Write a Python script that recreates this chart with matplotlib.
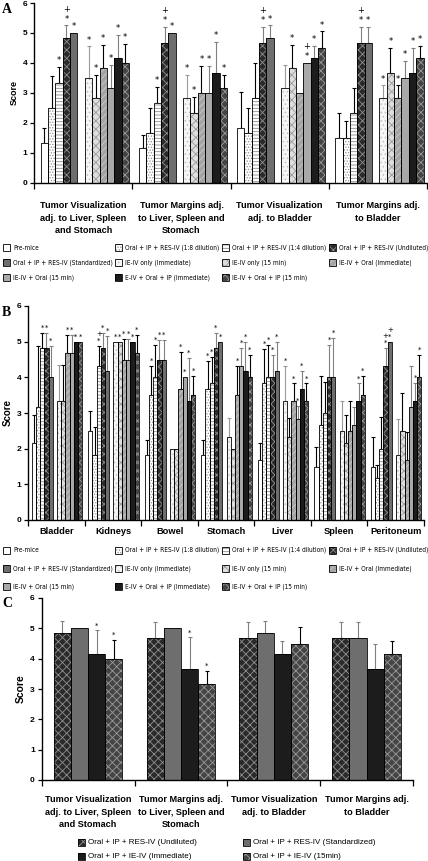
import numpy as np
import matplotlib
matplotlib.use('Agg')
import matplotlib.pyplot as plt
from matplotlib.patches import Rectangle

plt.rcParams['font.family'] = ['Liberation Sans', 'DejaVu Sans']
plt.rcParams['hatch.linewidth'] = 0.6

# ---- data -------------------------------------------------------------
series = ['Pre-mice', 'Oral + IP + RES-IV (1:8 dilution)', 'Oral + IP + RES-IV (1:4 dilution)',
          'Oral + IP + RES-IV (Undiluted)', 'Oral + IP + RES-IV (Standardized)',
          'IE-IV only (Immediate)', 'IE-IV only (15 min)', 'IE-IV + Oral (Immediate)',
          'IE-IV + Oral (15 min)', 'E-IV + Oral + IP (Immediate)', 'IE-IV + Oral + IP (15 min)']

tumor_cats = ['Tumor Visualization\nadj. to Liver, Spleen\nand Stomach',
              'Tumor Margins adj.\nto Liver, Spleen and\nStomach',
              'Tumor Visualization\nadj. to Bladder',
              'Tumor Margins adj.\nto Bladder']
organ_cats = ['Bladder', 'Kidneys', 'Bowel', 'Stomach', 'Liver', 'Spleen', 'Peritoneum']

# panel A: mean score and top of error bar, per category
a_vals = [[1.33, 2.5, 3.33, 4.83, 5.0, 3.5, 2.83, 3.83, 3.17, 4.17, 4.0],
          [1.17, 1.67, 2.67, 4.67, 5.0, 2.83, 2.33, 3.0, 3.0, 3.67, 3.17],
          [1.83, 1.67, 2.83, 4.67, 4.83, 3.17, 3.83, 3.0, 4.0, 4.17, 4.5],
          [1.5, 1.5, 2.33, 4.67, 4.67, 2.83, 3.67, 2.83, 3.5, 3.67, 4.17]]
a_tops = [[1.83, 3.55, 3.87, 5.25, 5.0, 4.55, 3.6, 4.6, 3.93, 4.93, 4.63],
          [1.58, 2.48, 3.2, 5.2, 5.0, 3.6, 2.87, 3.9, 3.9, 4.7, 3.6],
          [3.03, 2.48, 4.0, 5.2, 5.25, 3.93, 4.6, 3.0, 4.0, 4.57, 5.05],
          [2.33, 2.05, 3.17, 5.2, 5.2, 3.25, 4.5, 3.25, 4.07, 4.5, 4.57]]
a_marks = [['', '', '*', '+*', '*', '*', '*', '*', '*', '*', '*'],
           ['', '', '*', '+*', '*', '*', '*', '*', '*', '*', '*'],
           ['', '', '', '+*', '*', '', '*', '', '+*', '*', '*'],
           ['', '', '', '+*', '*', '*', '*', '*', '*', '*', '*']]

# panel B
b_vals = [[2.17, 3.17, 4.83, 4.83, 4.0, 3.33, 3.33, 4.67, 4.67, 5.0, 5.0],
          [2.5, 1.83, 4.33, 4.83, 4.17, 5.0, 5.0, 4.5, 4.5, 5.0, 4.67],
          [1.83, 3.5, 4.0, 4.5, 4.5, 2.0, 2.0, 3.67, 4.0, 3.33, 3.5],
          [1.83, 3.67, 3.83, 4.83, 5.0, 2.33, 2.0, 3.5, 4.33, 4.17, 4.0],
          [1.67, 3.83, 4.0, 4.0, 4.17, 3.33, 2.33, 3.33, 2.83, 3.67, 3.33],
          [1.5, 2.67, 3.0, 4.0, 4.0, 2.5, 2.17, 2.5, 2.67, 3.33, 3.5],
          [1.5, 1.17, 2.0, 4.33, 5.0, 1.83, 2.5, 1.67, 3.17, 3.33, 4.0]]
b_tops = [[2.93, 4.88, 5.25, 5.25, 4.88, 4.35, 4.35, 5.2, 5.2, 5.0, 5.0],
          [3.05, 2.6, 4.87, 5.25, 5.15, 5.0, 5.0, 5.07, 5.07, 5.0, 5.2],
          [2.25, 4.33, 4.9, 5.05, 5.05, 2.0, 2.0, 4.7, 4.0, 4.55, 4.05],
          [2.25, 4.47, 4.58, 5.25, 5.0, 2.87, 2.0, 4.33, 4.83, 5.0, 4.62],
          [2.17, 4.8, 4.9, 4.62, 5.0, 4.33, 2.87, 3.83, 3.2, 4.17, 3.83],
          [2.05, 4.05, 3.87, 4.9, 5.1, 3.33, 2.93, 3.33, 3.17, 3.83, 4.05],
          [2.33, 1.55, 2.9, 4.83, 5.0, 2.83, 3.55, 2.47, 4.33, 3.85, 4.63]]
b_marks = [['', '', '*', '*', '*', '', '', '*', '*', '*', '*'],
           ['', '', '+*', '*', '*', '*', '*', '*', '*', '*', '*'],
           ['', '*', '*', '*', '*', '', '', '*', '*', '*', '*'],
           ['', '*', '*', '*', '*', '', '', '*', '*', '*', '*'],
           ['', '*', '*', '*', '*', '*', '', '*', '*', '*', '*'],
           ['', '', '', '*', '*', '', '', '', '', '*', '*'],
           ['', '', '', '+*', '+*', '', '', '', '', '*', '*']]

# panel C
c_series = ['Oral + IP + RES-IV (Undiluted)', 'Oral + IP + RES-IV (Standardized)',
            'Oral + IP + IE-IV (Immediate)', 'Oral + IP + IE-IV (15min)']
c_vals = [[4.83, 5.0, 4.17, 4.0],
          [4.67, 5.0, 3.67, 3.17],
          [4.67, 4.83, 4.17, 4.5],
          [4.67, 4.67, 3.67, 4.17]]
c_tops = [[5.25, 5.0, 4.93, 4.63],
          [5.2, 5.0, 4.7, 3.6],
          [5.2, 5.25, 4.57, 5.05],
          [5.2, 5.2, 4.5, 4.57]]
c_marks = [['', '', '*', '*'],
           ['', '', '*', '*'],
           ['', '', '', ''],
           ['', '', '', '']]

# ---- styles (face, hatch, hatch colour, error bar colour) -------------
styles = [('white', '', 'black', 'black'),
          ('white', '......', '#909090', 'black'),
          ('white', '-----', '#8a8a8a', 'black'),
          ('#2a2a2a', 'xxxx', '#909090', '#808080'),
          ('#6e6e6e', '', '#6e6e6e', '#808080'),
          ('#f6f6f6', '....', '#c0c0c0', '#9a9a9a'),
          ('#dedede', 'xxxx', '#9a9a9a', 'black'),
          ('#a4a4a4', '/////', '#cacaca', 'black'),
          ('#a9a9a9', '', '#a9a9a9', '#808080'),
          ('#1c1c1c', '', '#1c1c1c', '#808080'),
          ('#444444', 'xxxx', '#9a9a9a', 'black')]
c_styles = [styles[3], styles[4], styles[9], styles[10]]

W, H = 428, 861
fig = plt.figure(figsize=(W / 100, H / 100), dpi=100)


def px_rect(x0, y0, x1, y1):
    # axes rect from pixel box (top-left origin)
    return [x0 / W, 1 - y1 / H, (x1 - x0) / W, (y1 - y0) / H]


def draw_panel(ax, cats, vals, tops, marks, stl, width, offset, gap,
               cat_fs, cat_pad, cat_ls, tick_fs, ylab_fs, mark_fs):
    vals = np.array(vals)
    tops = np.array(tops)
    ng, nb = vals.shape
    groups = np.arange(ng)
    for k in range(nb):
        slot = k + (1 if (gap and k >= 5) else 0)
        x = groups + offset + (slot + 0.5) * width
        face, hatch, hcol, ecol = stl[k]
        ax.bar(x, vals[:, k], width, color=face, edgecolor=hcol, hatch=hatch,
               linewidth=0, zorder=2)
        ax.bar(x, vals[:, k], width, fill=False, edgecolor='black', linewidth=0.6, zorder=3)
        err = tops[:, k] - vals[:, k]
        m = err > 0.01
        if m.any():
            ax.errorbar(x[m], vals[m, k], yerr=[np.zeros(m.sum()), err[m]], fmt='none',
                        ecolor=ecol, elinewidth=0.8, capsize=1.4, capthick=0.8, zorder=1)
        for g in range(ng):
            s = marks[g][k]
            if s:
                s = s.replace('+*', '+\n*')
                ax.text(x[g], max(tops[g, k], vals[g, k]) + 0.06, s, ha='center', va='bottom',
                        fontsize=mark_fs, linespacing=1.15, family='DejaVu Sans')
    ax.set_xlim(0, ng)
    ax.set_ylim(0, 6)
    ax.set_yticks(range(7))
    ax.set_xticks(range(ng + 1))
    ax.set_xticklabels([])
    ax.set_xticks(groups + 0.5, minor=True)
    ax.set_xticklabels(cats, minor=True, fontsize=cat_fs, fontweight='bold', linespacing=cat_ls)
    ax.tick_params(axis='x', which='major', length=4, width=0.9, direction='out')
    ax.tick_params(axis='x', which='minor', length=0, pad=cat_pad)
    ax.tick_params(axis='y', length=3, width=0.9, labelsize=tick_fs, pad=2)
    for t in ax.get_yticklabels():
        t.set_fontweight('bold')
    for sp in ['top', 'right']:
        ax.spines[sp].set_visible(False)
    for sp in ['left', 'bottom']:
        ax.spines[sp].set_linewidth(1.0)
    ax.set_ylabel('Score', fontsize=ylab_fs, fontweight='bold', labelpad=3)


def draw_legend(labels, stl, col_x, row_y, ncol, fs, box=7, **kw):
    for i, lab in enumerate(labels):
        r, c = divmod(i, ncol)
        x, yc = col_x[c], row_y[r]
        face, hatch, hcol, _ = stl[i]
        rect = [x / W, 1 - (yc + box / 2) / H]
        fig.add_artist(Rectangle(rect, box / W, box / H, transform=fig.transFigure,
                                 facecolor=face, edgecolor=hcol, hatch=hatch, linewidth=0))
        fig.add_artist(Rectangle(rect, box / W, box / H, transform=fig.transFigure,
                                 fill=False, edgecolor='black', linewidth=0.6))
        fig.text((x + box + 3) / W, 1 - yc / H, lab, fontsize=fs, va='center', ha='left', **kw)


# panel A
axA = fig.add_axes(px_rect(34.3, 3, 427, 182.7))
draw_panel(axA, tumor_cats, a_vals, a_tops, a_marks, styles, 0.075, 0.065, True,
           6.6, 13, 1.55, 6, 6.5, 6)
draw_legend(series, styles, [3, 115, 222, 329], [247.7, 262.7, 277.7], 4, 4.7,
            family=['DejaVu Sans'], fontstretch='condensed')

# panel B
axB = fig.add_axes(px_rect(28.3, 306, 424, 520))
draw_panel(axB, organ_cats, b_vals, b_tops, b_marks, styles, 0.0745, 0.06, True,
           6.7, 5, 1.3, 6, 7, 5)
draw_legend(series, styles, [3, 115, 222, 329], [550, 568.3, 586.7], 4, 4.7,
            family=['DejaVu Sans'], fontstretch='condensed')

# panel C
axC = fig.add_axes(px_rect(41.7, 598, 413, 780))
draw_panel(axC, tumor_cats, c_vals, c_tops, c_marks, c_styles, 0.185, 0.13, False,
           6.6, 11, 1.5, 6, 7.5, 5)
draw_legend(c_series, c_styles, [77.7, 242.7], [842.3, 856], 2, 5.8)

for lab, y in [('A', 3), ('B', 306), ('C', 597)]:
    fig.text(2 / W, 1 - y / H, lab, fontsize=10, fontweight='bold', va='top', ha='left',
             family=['Liberation Serif', 'DejaVu Serif'])

fig.savefig('out.png', dpi=100, facecolor='white')
